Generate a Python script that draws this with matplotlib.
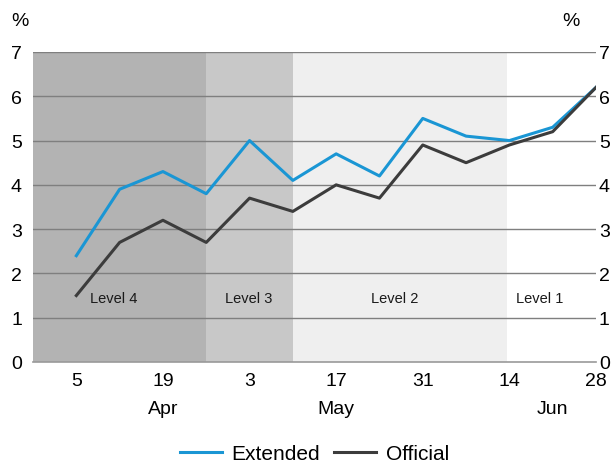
import matplotlib.pyplot as plt
import numpy as np

plt.rcParams['font.family'] = ['Liberation Sans', 'DejaVu Sans']

# weekly observations, week 0 = 5 April
weeks = np.arange(13)
extended = [2.4, 3.9, 4.3, 3.8, 5.0, 4.1, 4.7, 4.2, 5.5, 5.1, 5.0, 5.3, 6.2]
official = [1.5, 2.7, 3.2, 2.7, 3.7, 3.4, 4.0, 3.7, 4.9, 4.5, 4.9, 5.2, 6.2]

tick_weeks = [0, 2, 4, 6, 8, 10, 12]
tick_labels = ['5', '19', '3', '17', '31', '14', '28']
months = ['Apr', 'May', 'Jun']
month_pos = [2, 6, 11]

# alert level periods (start, end, label, colour)
levels = [(-1, 3, 'Level 4', '#b3b3b3'),
          (3, 5, 'Level 3', '#c8c8c8'),
          (5, 9.95, 'Level 2', '#efefef'),
          (9.95, 12, 'Level 1', 'white')]
level_text_x = [0.87, 3.97, 7.36, 10.71]

fig = plt.figure(figsize=(6.16, 4.64), dpi=100)
ax = fig.add_axes([0.0536, 0.2177, 0.9139, 0.6681])

for (x0, x1, name, col), tx in zip(levels, level_text_x):
    ax.axvspan(x0, x1, color=col, lw=0, zorder=0)
    ax.text(tx, 1.44, name, ha='center', va='center', fontsize=10.5, color='#1a1a1a')

for y in range(1, 8):
    ax.axhline(y, color='#7f7f7f', lw=1, zorder=1)

ax.plot(weeks, extended, color='#1a96d4', lw=2.2, label='Extended', zorder=3)
ax.plot(weeks, official, color='#3c3c3c', lw=2.2, label='Official', zorder=3)

ax.set_xlim(-1, 12)
ax.set_ylim(0, 7)
ax.set_yticks(range(8))
ax.set_xticks(tick_weeks)
ax.set_xticklabels(tick_labels)
ax.tick_params(axis='x', length=0, labelsize=14, pad=7)
ax.tick_params(axis='y', length=0, labelsize=14, pad=8)

for s in ['top', 'left', 'right']:
    ax.spines[s].set_visible(False)
ax.spines['bottom'].set_color('#999999')
ax.spines['bottom'].set_linewidth(1.2)

ax2 = ax.twinx()
ax2.set_ylim(0, 7)
ax2.set_yticks(range(8))
ax2.tick_params(axis='y', length=0, labelsize=14, pad=2)
for s in ax2.spines.values():
    s.set_visible(False)

for m, p in zip(months, month_pos):
    ax.text(p, -1.06, m, ha='center', va='center', fontsize=14)

fig.text(20 / 616, 1 - 22 / 464, '%', ha='center', va='center', fontsize=14)
fig.text(571 / 616, 1 - 22 / 464, '%', ha='center', va='center', fontsize=14)

ax.legend(loc='center', bbox_to_anchor=(0.5, -0.295), ncol=2, frameon=False,
          fontsize=15, handlelength=2.0, columnspacing=0.7, handletextpad=0.45)

fig.savefig('out.png', dpi=100)
